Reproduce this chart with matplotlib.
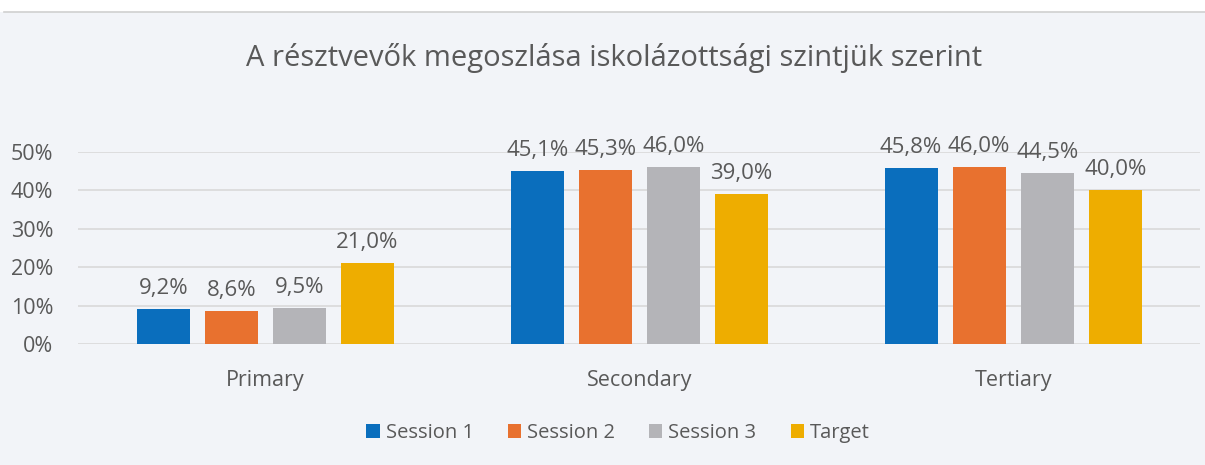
import matplotlib
matplotlib.use("Agg")
import matplotlib.pyplot as plt
import numpy as np
from matplotlib.patches import Rectangle

categories = ["Primary", "Secondary", "Tertiary"]
series_names = ["Session 1", "Session 2", "Session 3", "Target"]
session1 = [9.2, 45.1, 45.8]
session2 = [8.6, 45.3, 46.0]
session3 = [9.5, 46.0, 44.5]
target = [21.0, 39.0, 40.0]
yticks = [0, 10, 20, 30, 40, 50]
title = "A résztvevők megoszlása iskolázottsági szintjük szerint"

colors = ["#0A6EBD", "#E8712F", "#B4B4B8", "#EEAD00"]
txt = "#595959"
bg = "#F2F4F8"
plt.rcParams['font.family'] = ['Open Sans', 'DejaVu Sans']

fig = plt.figure(figsize=(12.05, 4.65), dpi=100, facecolor=bg)
# white top strip with thin border
fig.patches.append(Rectangle((0, 1 - 12/465), 1, 12/465, transform=fig.transFigure,
                             facecolor="white", edgecolor="none", zorder=0))
fig.lines.append(plt.Line2D([0.003, 1], [1 - 12/465, 1 - 12/465], transform=fig.transFigure,
                            color="#D0D0D0", lw=1.2))

ax = fig.add_axes([0.065, 0.260, 0.931, 0.413])
ax.set_facecolor(bg)

all_series = [session1, session2, session3, target]
x = np.arange(len(categories))
step = 0.182
width = 0.142
for i, (vals, name, c) in enumerate(zip(all_series, series_names, colors)):
    pos = x + (i - 1.5) * step
    ax.bar(pos, vals, width=width, color=c, label=name, zorder=3)
    for px, v in zip(pos, vals):
        ax.text(px, v + 2.6, f"{v:.1f}%".replace(".", ","), ha="center", va="bottom",
                fontsize=16, color=txt, clip_on=False)

ax.set_xlim(-0.5, 2.5)
ax.set_ylim(0, 50)
ax.set_yticks(yticks)
ax.set_yticklabels([f"{t}%" for t in yticks])
ax.set_xticks(x)
ax.set_xticklabels(categories)
ax.tick_params(axis="both", length=0, labelsize=15.5, colors=txt)
ax.tick_params(axis="x", labelsize=15.5, pad=19)
ax.tick_params(axis="y", pad=18)
ax.grid(axis="y", color="#D9D9D9", lw=1.2, zorder=0)
for s in ax.spines.values():
    s.set_visible(False)

fig.text(0.51, 1 - 58/465, title, ha="center", va="center", fontsize=21, color=txt)

leg = fig.legend(loc="center", bbox_to_anchor=(0.513, 1 - 433/465), ncol=4, frameon=False,
                 fontsize=14.5, handlelength=0.65, handleheight=0.65, handletextpad=0.3,
                 columnspacing=1.7)
for t in leg.get_texts():
    t.set_color(txt)

fig.savefig("out.png", dpi=100, facecolor=bg)
